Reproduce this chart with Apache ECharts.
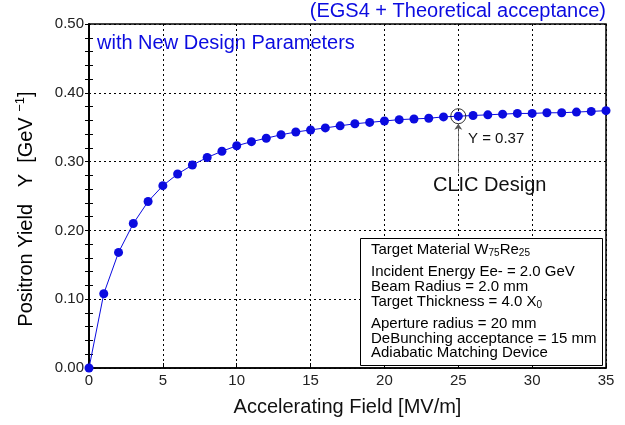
<!DOCTYPE html>
<html>
<head>
<meta charset="utf-8">
<script src="https://cdn.jsdelivr.net/npm/echarts@6/dist/echarts.min.js"></script>
<style>
  html, body { margin: 0; padding: 0; background: #fff; }
  #chart { width: 625px; height: 425px; }
</style>
</head>
<body>
<div id="chart"></div>
<script>
// accelerating field [MV/m]
var fieldValues = [0, 1, 2, 3, 4, 5, 6, 7, 8, 9, 10, 11, 12, 13, 14, 15, 16, 17,
    18, 19, 20, 21, 22, 23, 24, 25, 26, 27, 28, 29, 30, 31, 32, 33, 34, 35];
// positron yield [1/GeV]
var yieldValues = [0.000, 0.108, 0.168, 0.210, 0.242, 0.265, 0.282, 0.295, 0.306, 0.315,
    0.323, 0.329, 0.334, 0.339, 0.343, 0.346, 0.349, 0.352, 0.355, 0.357,
    0.359, 0.361, 0.362, 0.363, 0.365, 0.366, 0.367, 0.368, 0.369, 0.370,
    0.370, 0.371, 0.371, 0.372, 0.373, 0.374];
var clicField = 25;
var clicYield = 0.366;
var xTicks = { min: 0, max: 35, step: 5 };
var yTicks = { min: 0, max: 0.5, step: 0.1 };
var infoLines = [
    '{t|Target Material W}{s|75}{t|Re}{s|25}',
    '{t|Incident Energy Ee- = 2.0 GeV}',
    '{t|Beam Radius = 2.0 mm}',
    '{t|Target Thickness = 4.0 X}{s|0}',
    '{t|Aperture radius = 20 mm}',
    '{t|DeBunching acceptance = 15 mm}',
    '{t|Adiabatic Matching Device}'
];

var blue = '#0b0be0';
var font = '"Liberation Sans", Arial, sans-serif';

var chart = echarts.init(document.getElementById('chart'));

var lineData = fieldValues.map(function (x, i) { return [x, yieldValues[i]]; });
// text line tops inside the info box
var infoY = [242, 264, 279, 294, 316, 331, 345];
var infoRich = {
    t: { fontSize: 15, fontFamily: font, color: '#111', lineHeight: 16, verticalAlign: 'top' },
    s: { fontSize: 10, fontFamily: font, color: '#111', lineHeight: 10, verticalAlign: 'bottom', padding: [9, 0, 0, 0] }
};

var yBase = {
    type: 'value',
    min: yTicks.min, max: yTicks.max, interval: yTicks.step,
    splitLine: { show: false }
};

var option = {
    backgroundColor: '#fff',
    animation: false,
    grid: {
        left: 89, right: 19, top: 24, bottom: 57,
        show: true, borderColor: '#000', borderWidth: 1.5, backgroundColor: 'transparent'
    },
    xAxis: {
        type: 'value',
        min: xTicks.min, max: xTicks.max, interval: xTicks.step,
        name: 'Accelerating Field [MV/m]',
        nameLocation: 'middle',
        nameGap: 29,
        nameTextStyle: { fontSize: 20, fontFamily: font, color: '#111' },
        axisLine: { show: true, onZero: false, lineStyle: { color: '#000', width: 1.5 } },
        axisTick: { show: true, inside: true, length: 5, lineStyle: { color: '#000' } },
        axisLabel: { fontSize: 15, fontFamily: font, color: '#222', margin: 5 },
        splitLine: { show: true, lineStyle: { color: '#000', type: [2, 3], width: 1 } }
    },
    yAxis: [
        echarts.util.merge({
            axisLine: { show: true, onZero: false, lineStyle: { color: '#000', width: 1.5 } },
            axisTick: { show: true, inside: false, length: 4, lineStyle: { color: '#000' } },
            axisLabel: {
                fontSize: 15, fontFamily: font, color: '#222', margin: 5,
                formatter: function (v) { return v.toFixed(2); }
            },
            splitLine: { show: true, lineStyle: { color: '#000', type: [2, 3], width: 1 } }
        }, yBase, false),
        echarts.util.merge({
            position: 'left',
            axisLine: { show: false, onZero: false },
            axisTick: { show: false, inside: true },
            minorTick: { show: true, splitNumber: 5, length: 4, lineStyle: { color: '#000' } },
            axisLabel: { show: false }
        }, yBase, false),
        echarts.util.merge({
            position: 'right',
            axisLine: { show: true, lineStyle: { color: '#000', width: 1.5 } },
            axisTick: { show: true, inside: true, length: 4, lineStyle: { color: '#000' } },
            minorTick: { show: true, splitNumber: 5, length: 4, lineStyle: { color: '#000' } },
            axisLabel: { show: false }
        }, yBase, false)
    ],
    series: [{
        type: 'line',
        data: lineData,
        symbol: 'circle',
        symbolSize: 9,
        clip: false,
        lineStyle: { color: blue, width: 1 },
        itemStyle: { color: blue },
        z: 3
    }, {
        type: 'scatter',
        data: [[clicField, clicYield]],
        symbol: 'circle',
        symbolSize: 15,
        itemStyle: { color: 'rgba(0,0,0,0)', borderColor: '#000', borderWidth: 1 },
        z: 4,
        markLine: {
            silent: true,
            symbol: ['none', 'arrow'],
            symbolSize: 6,
            label: { show: false },
            lineStyle: { color: '#555', width: 0.8, type: 'solid' },
            data: [[{ coord: [clicField, 0.283] }, { coord: [clicField, 0.355] }]]
        }
    }],
    graphic: [
        {
            type: 'text', x: 26, y: 209, rotation: Math.PI / 2,
            style: {
                text: '{n|Positron Yield   Y  [GeV }{p|\u22121}{n|]}',
                align: 'center', verticalAlign: 'middle',
                rich: {
                    n: { fontSize: 20, fontFamily: font, color: '#111', lineHeight: 24 },
                    p: { fontSize: 13, fontFamily: font, color: '#111', lineHeight: 24, verticalAlign: 'top', padding: [0, 0, 9, 0] }
                }
            }
        },
        {
            type: 'text', right: 19, top: 1,
            style: { text: '(EGS4 + Theoretical acceptance)', fill: blue, fontSize: 20, fontFamily: font }
        },
        {
            type: 'text', left: 97, top: 33,
            style: { text: 'with New Design Parameters', fill: blue, fontSize: 20, fontFamily: font }
        },
        {
            type: 'text', left: 468, top: 131,
            style: { text: 'Y = 0.37', fill: '#111', fontSize: 15, fontFamily: font }
        },
        {
            type: 'text', left: 433, top: 175,
            style: { text: 'CLIC Design', fill: '#111', fontSize: 20, fontFamily: font }
        },
        {
            type: 'rect', left: 360, top: 238, z: 10,
            shape: { width: 242, height: 127 },
            style: { fill: '#fff', stroke: '#000', lineWidth: 1 }
        }
    ].concat(infoLines.map(function (txt, i) {
        return {
            type: 'text', x: 371, y: infoY[i], z: 11,
            style: { text: txt, rich: infoRich, verticalAlign: 'top' }
        };
    }))
};

chart.setOption(option);
</script>
</body>
</html>
